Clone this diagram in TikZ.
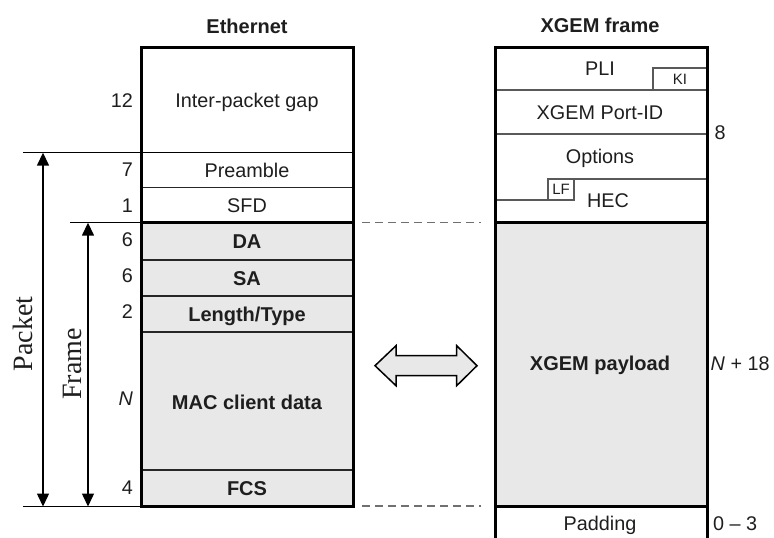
\documentclass[tikz,border=0pt]{standalone}
\usepackage{fontspec}
\setmainfont{Liberation Sans}
\newfontfamily\serifx{Liberation Serif}
\usetikzlibrary{arrows.meta}
\definecolor{cellgray}{HTML}{E8E8E8}
\definecolor{dashgray}{HTML}{707070}
\definecolor{inkc}{HTML}{1E1E1E}
\begin{document}
\begin{tikzpicture}[x=1pt,y=-1pt,
  txt/.style={inner sep=0pt, text=inkc, text height=14pt, text depth=0pt, font=\fontsize{19.8}{22}\selectfont},
  btxt/.style={inner sep=0pt, text=inkc, text height=14.5pt, text depth=0pt, font=\fontsize{20}{22}\selectfont\bfseries},
  stxt/.style={inner sep=0pt, text=inkc, text height=10.7pt, text depth=0pt, font=\fontsize{15}{17}\selectfont},
  numl/.style={txt, anchor=east},
  numr/.style={txt, anchor=west},
  sidelbl/.style={inner sep=0pt, text=inkc, rotate=90, font=\serifx\fontsize{28}{30}\selectfont},
  thinln/.style={line width=1.2pt, draw=black!85},
  thinr/.style={line width=1.2pt, draw=black!65},
  thickln/.style={line width=3pt, draw=black},
  dimln/.style={line width=1.5pt, draw=black},
  dimarrow/.style={line width=1.5pt, {Triangle[width=12pt,length=13pt]}-{Triangle[width=12pt,length=13pt]}},
  dashln/.style={line width=1.5pt, draw=dashgray, dash pattern=on 8pt off 5pt},
  bigarrow/.style={line width=1.5pt, draw=black, fill=cellgray, line join=miter}
]
\useasboundingbox (0,0) rectangle (774,538);

% ---------------- Ethernet (left) ----------------
\fill[cellgray] (141,222.7) rectangle (353.5,506.5);
\draw[thinln] (141,187.7) -- (353.5,187.7);
\draw[thinln] (141,260) -- (353.5,260);
\draw[thinln] (141,296) -- (353.5,296);
\draw[thinln] (141,332) -- (353.5,332);
\draw[thinln] (141,470) -- (353.5,470);
\draw[dimln] (23,152.7) -- (353.5,152.7);
\draw[dimln] (70,222.7) -- (141,222.7);
\draw[dimln] (23,506.5) -- (141,506.5);
\draw[thickln] (141,222.7) -- (353.5,222.7);
\draw[thickln] (141,47) rectangle (353.5,506.5);

\node[btxt] (eth) at (247,26) {Ethernet};
\node[txt] (ipg) at (247,100) {Inter-packet gap};
\node[txt] (pre) at (247,170) {Preamble};
\node[txt] (sfd) at (247,205.5) {SFD};
\node[btxt] (da) at (247,241.5) {DA};
\node[btxt] (sa) at (247,278) {SA};
\node[btxt] (lt) at (247,314) {Length/Type};
\node[btxt] (mac) at (247,402) {MAC client data};
\node[btxt] (fcs) at (247,488) {FCS};

\node[numl] (n12) at (133,100) {12};
\node[numl] (n7) at (133,169) {7};
\node[numl] (n1) at (133,205) {1};
\node[numl] (n6a) at (133,239) {6};
\node[numl] (n6b) at (133,275.5) {6};
\node[numl] (n2) at (133,311) {2};
\node[numl] (nN) at (133,398) {\itshape N};
\node[numl] (n4) at (133,487.5) {4};

\coordinate (pktT) at (43,152.7);
\coordinate (pktB) at (43,506.5);
\coordinate (frmT) at (88,222.7);
\coordinate (frmB) at (88,506.5);
\draw[dimarrow] (pktT) -- (pktB);
\draw[dimarrow] (frmT) -- (frmB);
\node[sidelbl] (packet) at (23,334) {Packet};
\node[sidelbl] (frame) at (72,364) {Frame};

% ---------------- dashed guides ----------------
\coordinate (dA1) at (362,222.7);
\coordinate (dA2) at (481,222.7);
\coordinate (dB1) at (362,506);
\coordinate (dB2) at (481,506);
\draw[dashln] (dA1) -- (dA2);
\draw[dashln] (dB1) -- (dB2);

% ---------------- double arrow ----------------
\draw[bigarrow] (375,365.7) -- (396,345.7) -- (396,355.7) -- (456.7,355.7) -- (456.7,345.7)
  -- (477,365.7) -- (456.7,385.7) -- (456.7,375.7) -- (396,375.7) -- (396,385.7) -- cycle;

% ---------------- XGEM frame (right) ----------------
\fill[cellgray] (495,222) rectangle (707,506);
\draw[thinr] (495,90) -- (707,90);
\draw[thinr] (653,90) -- (653,68) -- (707,68);
\draw[thinr] (495,134) -- (707,134);
\draw[thinr] (495,200) -- (548,200) -- (548,179) -- (707,179);
\draw[thinr] (548,200) -- (574,200) -- (574,179);
\draw[thickln] (495,222) -- (707,222);
\draw[thickln] (495,506) -- (707,506);
\draw[thickln] (495,545) -- (495,47) -- (707,47) -- (707,545);

\node[btxt] (xgt) at (600,25) {XGEM frame};
\node[txt] (pli) at (600,68) {PLI};
\node[stxt] (ki) at (680,79) {KI};
\node[txt] (port) at (600,112.5) {XGEM Port-ID};
\node[txt] (opt) at (600,156) {Options};
\node[stxt] (lf) at (561,189.5) {LF};
\node[txt] (hec) at (608,200) {HEC};
\node[btxt] (pay) at (600,363) {XGEM payload};
\node[txt] (pad) at (600,523) {Padding};

\node[numr] (n8) at (714.5,132) {8};
\node[numr] (nN18) at (710.5,363) {\itshape N\upshape{} + 18};
\node[numr] (n03) at (713,523) {0 -- 3};
\end{tikzpicture}
\end{document}
